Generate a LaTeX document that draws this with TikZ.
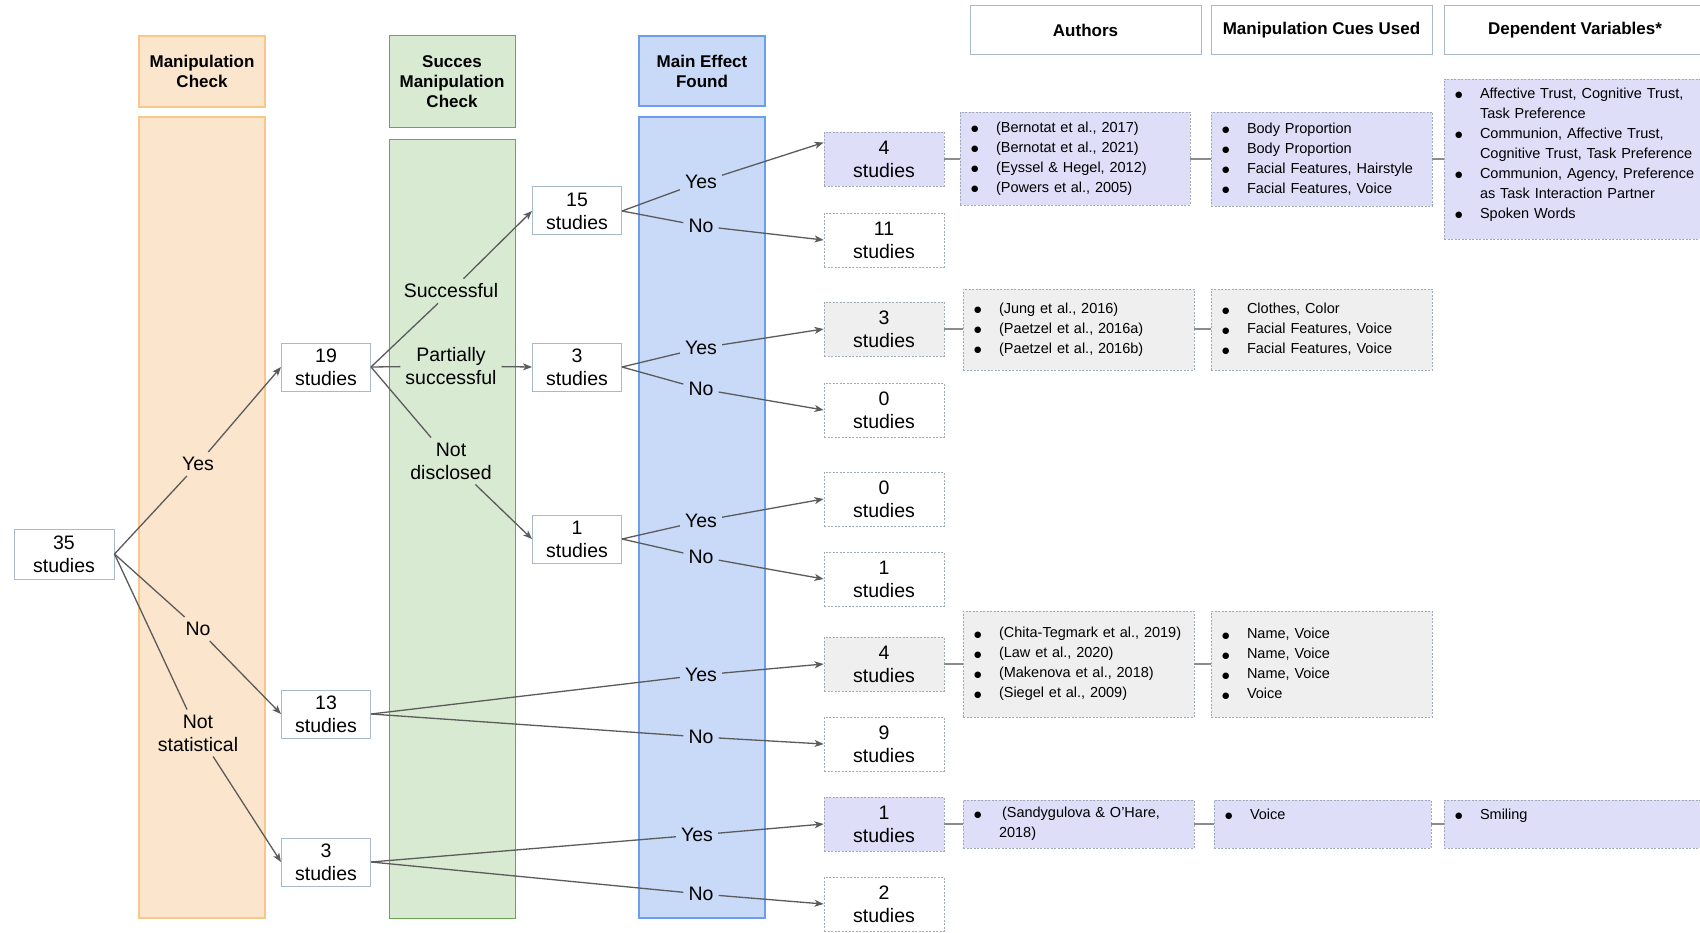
\documentclass[tikz,border=0pt]{standalone}
\usepackage{fontspec}
\setmainfont{Liberation Sans}
\newfontfamily\dejavu{DejaVu Sans}
\usetikzlibrary{arrows.meta,calc}
\definecolor{orfill}{HTML}{FCE5CD}
\definecolor{ordraw}{HTML}{F8C78A}
\definecolor{grfill}{HTML}{D9EAD3}
\definecolor{grdraw}{HTML}{6AA84F}
\definecolor{blfill}{HTML}{C9DAF8}
\definecolor{bldraw}{HTML}{6D9EEB}
\definecolor{pufill}{HTML}{DFDEF9}
\definecolor{gyfill}{HTML}{EFEFEF}
\definecolor{dashb}{HTML}{9FAAB6}
\definecolor{nodeb}{HTML}{A9B9C9}
\definecolor{linec}{HTML}{5B5B5B}
\definecolor{detc}{HTML}{8C8C8C}
\newcommand{\bdot}{\raisebox{0.5pt}{{\dejavu\fontsize{8.5}{8.5}\selectfont ●}}}
\newcommand{\bli}[1]{\makebox[24pt][l]{\hspace{-1pt}\bdot}\mbox{#1}}
\newcommand{\blc}[1]{\hspace*{24pt}\mbox{#1}}
\begin{document}
\begin{tikzpicture}[x=1pt,y=-1pt,
  colbox/.style={line width=1.3pt, minimum width=126pt, inner sep=0pt},
  hdr/.style={colbox, font=\fontsize{17}{20}\selectfont\bfseries, align=center},
  stud/.style={draw=nodeb, fill=white, line width=1pt, font=\fontsize{19.5}{23}\selectfont, align=center, minimum width=89pt, minimum height=48pt, inner sep=0pt},
  res/.style={draw=dashb, dash pattern=on 2pt off 1.5pt, line width=0.9pt, fill=white, font=\fontsize{19.5}{23}\selectfont, align=center, minimum width=120pt, minimum height=54pt, inner sep=0pt},
  lbl/.style={font=\fontsize{19.5}{23}\selectfont, align=center, inner sep=5pt},
  link/.style={draw=linec, line width=1.3pt},
  arr/.style={link, -{Stealth[length=9pt,width=7pt,inset=2.5pt]}},
  det/.style={draw=dashb, dash pattern=on 2pt off 1.5pt, line width=0.9pt, font=\fontsize{14.5}{20}\selectfont, align=left, inner xsep=12pt, inner ysep=0pt},
  detline/.style={draw=detc, line width=2pt},
  thdr/.style={draw=nodeb, fill=white, line width=1pt, font=\fontsize{17}{20}\selectfont\bfseries, minimum height=49pt, inner sep=0pt}
]
\useasboundingbox (0,0) rectangle (1700,933);
\clip (0,0) rectangle (1700,933);
\fill[white] (0,0) rectangle (1700,933);

% column headers and columns
\node[hdr, fill=orfill, draw=ordraw, minimum height=71pt] (hor) at (202,71.5) {Manipulation\\Check};
\node[colbox, fill=orfill, draw=ordraw, minimum height=801pt] (cor) at (202,517.5) {};
\node[hdr, fill=grfill, draw=grdraw, line width=1pt, minimum height=92pt] (hgr) at (452,82) {Succes\\Manipulation\\Check};
\node[colbox, fill=grfill, draw=grdraw, line width=1pt, minimum height=778pt] (cgr) at (452,529) {};
\node[hdr, fill=blfill, draw=bldraw, minimum height=70pt] (hbl) at (702,71) {Main Effect\\Found};
\node[colbox, fill=blfill, draw=bldraw, minimum height=801pt] (cbl) at (702,517.5) {};

% table headers
\node[thdr, minimum width=231pt] (tha) at (1085.5,30.5) {Authors};
\node[thdr, minimum width=221pt] (thc) at (1321.5,30.5) {Manipulation Cues Used};
\node[thdr, minimum width=262pt] (thd) at (1575,30.5) {Dependent Variables*};

% study nodes
\node[stud, minimum width=100pt, minimum height=50pt] (n35) at (64,554) {35\\studies};
\node[stud] (n19) at (326,367) {19\\studies};
\node[stud] (n13) at (326,714) {13\\studies};
\node[stud] (n3a) at (326,862) {3\\studies};
\node[stud] (n15) at (577,211) {15\\studies};
\node[stud] (n3b) at (577,367) {3\\studies};
\node[stud] (n1) at (577,539) {1\\studies};

% result nodes
\node[res, fill=pufill] (r4a) at (884,159) {4\\studies};
\node[res] (r11) at (884,240) {11\\studies};
\node[res, fill=gyfill] (r3) at (884,329) {3\\studies};
\node[res] (r0a) at (884,410) {0\\studies};
\node[res] (r0b) at (884,499) {0\\studies};
\node[res] (r1) at (884,579) {1\\studies};
\node[res, fill=gyfill] (r4b) at (884,664) {4\\studies};
\node[res] (r9) at (884,744) {9\\studies};
\node[res, fill=pufill] (r1b) at (884,824) {1\\studies};
\node[res] (r2) at (884,904) {2\\studies};

% labels column 1
\node[lbl] (lyes) at (198,464) {Yes};
\node[lbl] (lno) at (198,629) {No};
\node[lbl] (lns) at (198,733) {Not\\statistical};
% labels column 2
\node[lbl] (lsu) at (451,291) {Successful};
\node[lbl] (lps) at (451,366) {Partially\\successful};
\node[lbl] (lnd) at (451,461) {Not\\disclosed};
% labels column 3
\node[lbl] (y1) at (701,182) {Yes};
\node[lbl] (o1) at (701,226) {No};
\node[lbl] (y2) at (701,348) {Yes};
\node[lbl] (o2) at (701,389) {No};
\node[lbl] (y3) at (701,521) {Yes};
\node[lbl] (o3) at (701,557) {No};
\node[lbl] (y4) at (701,675) {Yes};
\node[lbl] (o4) at (701,737) {No};
\node[lbl] (y5) at (697,835) {Yes};
\node[lbl] (o5) at (701,894) {No};

% connectors column 1
\draw[link] (n35.east) -- (lyes);
\draw[arr] (lyes) -- (n19.west);
\draw[link] (n35.east) -- (lno);
\draw[arr] (lno) -- (n13.west);
\draw[link] (n35.east) -- (lns);
\draw[arr] (lns) -- (n3a.west);
% connectors column 2
\draw[link] (n19.east) -- (lsu);
\draw[arr] (lsu) -- (n15.west);
\draw[link] (n19.east) -- (lps);
\draw[arr] (lps) -- (n3b.west);
\draw[link] (n19.east) -- (lnd);
\draw[arr] (lnd) -- (n1.west);
% connectors column 3
\coordinate (r4aw) at ($(r4a.north west)!0.2!(r4a.south west)$);
\draw[link] (n15.east) -- (y1);
\draw[arr] (y1) -- (r4aw);
\draw[link] (n15.east) -- (o1);
\draw[arr] (o1) -- (r11.west);
\draw[link] (n3b.east) -- (y2);
\draw[arr] (y2) -- (r3.west);
\draw[link] (n3b.east) -- (o2);
\draw[arr] (o2) -- (r0a.west);
\draw[link] (n1.east) -- (y3);
\draw[arr] (y3) -- (r0b.west);
\draw[link] (n1.east) -- (o3);
\draw[arr] (o3) -- (r1.west);
\draw[link] (n13.east) -- (y4);
\draw[arr] (y4) -- (r4b.west);
\draw[link] (n13.east) -- (o4);
\draw[arr] (o4) -- (r9.west);
\draw[link] (n3a.east) -- (y5);
\draw[arr] (y5) -- (r1b.west);
\draw[link] (n3a.east) -- (o5);
\draw[arr] (o5) -- (r2.west);

% detail boxes row 1
\node[det, fill=pufill, text width=206pt, minimum height=93pt] (a1) at (1075,158.5) {\bli{(Bernotat et al., 2017)}\\\bli{(Bernotat et al., 2021)}\\\bli{(Eyssel \& Hegel, 2012)}\\\bli{(Powers et al., 2005)}};
\node[det, fill=pufill, text width=197pt, minimum height=94pt] (c1) at (1321.5,159) {\bli{Body Proportion}\\\bli{Body Proportion}\\\bli{Facial Features, Hairstyle}\\\bli{Facial Features, Voice}};
\node[det, fill=pufill, text width=238pt, minimum height=160pt] (d1) at (1575,159) {\bli{Affective Trust, Cognitive Trust,}\\\blc{Task Preference}\\\bli{Communion, Affective Trust,}\\\blc{Cognitive Trust, Task Preference}\\\bli{Communion, Agency, Preference}\\\blc{as Task Interaction Partner}\\\bli{Spoken Words}\\[-8pt]\mbox{}};
% row 2
\node[det, fill=gyfill, text width=207pt, minimum height=81pt] (a2) at (1078.5,329.5) {\bli{(Jung et al., 2016)}\\\bli{(Paetzel et al., 2016a)}\\\bli{(Paetzel et al., 2016b)}};
\node[det, fill=gyfill, text width=197pt, minimum height=81pt] (c2) at (1321.5,329.5) {\bli{Clothes, Color}\\\bli{Facial Features, Voice}\\\bli{Facial Features, Voice}};
% row 3
\node[det, fill=gyfill, text width=207pt, minimum height=106pt] (a3) at (1078.5,664) {\bli{(Chita-Tegmark et al., 2019)}\\\bli{(Law et al., 2020)}\\\bli{(Makenova et al., 2018)}\\\bli{(Siegel et al., 2009)}};
\node[det, fill=gyfill, text width=197pt, minimum height=106pt] (c3) at (1321.5,664) {\bli{Name, Voice}\\\bli{Name, Voice}\\\bli{Name, Voice}\\\bli{Voice}};
% row 4
\node[det, fill=pufill, text width=207pt, minimum height=48pt] (a4) at (1078.5,824) {\bli{\hspace{3pt}(Sandygulova \& O’Hare,}\\\blc{2018)}};
\node[det, fill=pufill, text width=193pt, minimum height=48pt] (c4) at (1322.5,824) {\bli{Voice}\\\mbox{}};
\node[det, fill=pufill, text width=238pt, minimum height=48pt] (d4) at (1575,824) {\bli{Smiling}\\\mbox{}};

% detail connectors
\draw[detline] (r4a.east) -- (a1.west |- r4a.east);
\draw[detline] (a1.east |- r4a.east) -- (c1.west |- r4a.east);
\draw[detline] (c1.east |- r4a.east) -- (d1.west |- r4a.east);
\draw[detline] (r3.east) -- (a2.west |- r3.east);
\draw[detline] (a2.east |- r3.east) -- (c2.west |- r3.east);
\draw[detline] (r4b.east) -- (a3.west |- r4b.east);
\draw[detline] (a3.east |- r4b.east) -- (c3.west |- r4b.east);
\draw[detline] (r1b.east) -- (a4.west);
\draw[detline] (a4.east) -- (c4.west);
\draw[detline] (c4.east) -- (d4.west);
\end{tikzpicture}
\end{document}
